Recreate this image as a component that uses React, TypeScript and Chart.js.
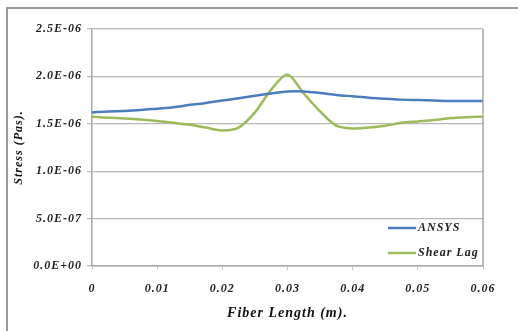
import React, { useEffect, useRef } from "react";
import { Chart, registerables } from "chart.js";

Chart.register(...registerables);

const fiberLength = [0, 0.0025, 0.005, 0.0075, 0.01, 0.0125, 0.015, 0.0175, 0.02, 0.0225, 0.025, 0.0275, 0.03, 0.0325, 0.035, 0.0375, 0.04, 0.0425, 0.045, 0.0475, 0.05, 0.0525, 0.055, 0.0575, 0.06];
const ansys = [1.62e-6, 1.63e-6, 1.635e-6, 1.645e-6, 1.66e-6, 1.675e-6, 1.7e-6, 1.72e-6, 1.745e-6, 1.77e-6, 1.795e-6, 1.82e-6, 1.84e-6, 1.84e-6, 1.825e-6, 1.805e-6, 1.79e-6, 1.775e-6, 1.765e-6, 1.755e-6, 1.75e-6, 1.745e-6, 1.74e-6, 1.74e-6, 1.74e-6];
const shearLag = [1.575e-6, 1.565e-6, 1.555e-6, 1.545e-6, 1.53e-6, 1.51e-6, 1.49e-6, 1.46e-6, 1.43e-6, 1.46e-6, 1.62e-6, 1.86e-6, 2.02e-6, 1.82e-6, 1.63e-6, 1.48e-6, 1.45e-6, 1.46e-6, 1.48e-6, 1.51e-6, 1.525e-6, 1.54e-6, 1.56e-6, 1.57e-6, 1.575e-6];
const yTickValues = [0, 5e-7, 1e-6, 1.5e-6, 2e-6, 2.5e-6];
const yTickLabels = ["0.0E+00", "5.0E-07", "1.0E-06", "1.5E-06", "2.0E-06", "2.5E-06"];
const xTickLabels = ["0", "0.01", "0.02", "0.03", "0.04", "0.05", "0.06"];
const seriesNames = ["ANSYS", "Shear Lag"];
const seriesColors = ["#4a7ebb", "#9bbb59"];

const FONT = "'Liberation Serif', 'Times New Roman', serif";

const spacingPlugin = {
  id: "spacing",
  beforeDraw(chart: any) {
    chart.ctx.letterSpacing = "1px";
  },
};

const framePlugin = {
  id: "frame",
  afterDraw(chart: any) {
    const ctx = chart.ctx;
    const a = chart.chartArea;
    ctx.save();
    ctx.strokeStyle = "#9a9a9a";
    ctx.lineWidth = 2;
    ctx.beginPath();
    ctx.moveTo(7, 340);
    ctx.lineTo(7, 8);
    ctx.lineTo(530, 8);
    ctx.stroke();
    ctx.strokeStyle = "#a6a6a6";
    ctx.lineWidth = 1.5;
    ctx.beginPath();
    ctx.moveTo(a.right, a.top);
    ctx.lineTo(a.right, a.bottom);
    ctx.stroke();
    const ds = chart.data.datasets;
    ctx.letterSpacing = "1px";
    ctx.font = `italic bold 12px ${FONT}`;
    ctx.textBaseline = "middle";
    ctx.textAlign = "left";
    const ys = [a.bottom - 38, a.bottom - 13];
    ds.forEach((d: any, i: number) => {
      ctx.strokeStyle = d.borderColor;
      ctx.lineWidth = 2.5;
      ctx.beginPath();
      ctx.moveTo(388, ys[i]);
      ctx.lineTo(416, ys[i]);
      ctx.stroke();
      ctx.fillStyle = "#222";
      ctx.fillText(d.label, 418, ys[i]);
    });
    ctx.restore();
  },
};

export default function App() {
  const ref = useRef<HTMLCanvasElement>(null);
  useEffect(() => {
    if (!ref.current) return;
    const chart = new Chart(ref.current, {
      type: "line",
      data: {
        labels: fiberLength,
        datasets: [
          {
            label: seriesNames[0],
            data: fiberLength.map((x, i) => ({ x, y: ansys[i] })),
            borderColor: seriesColors[0],
            backgroundColor: seriesColors[0],
            borderWidth: 2.5,
            pointRadius: 0,
            tension: 0.3,
          },
          {
            label: seriesNames[1],
            data: fiberLength.map((x, i) => ({ x, y: shearLag[i] })),
            borderColor: seriesColors[1],
            backgroundColor: seriesColors[1],
            borderWidth: 2.5,
            pointRadius: 0,
            tension: 0.3,
          },
        ],
      },
      options: {
        animation: false,
        responsive: false,
        devicePixelRatio: 1,
        layout: { padding: { left: 12, top: 29, right: 35, bottom: 0 } },
        plugins: { legend: { display: false }, tooltip: { enabled: false } },
        scales: {
          x: {
            type: "linear",
            min: 0,
            max: 0.06,
            afterBuildTicks(axis: any) {
              axis.ticks = xTickLabels.map((t) => ({ value: parseFloat(t) }));
            },
            afterFit(axis: any) {
              axis.height = 65;
            },
            grid: {
              display: true,
              drawOnChartArea: false,
              drawTicks: true,
              tickLength: 4,
              color: "#c8c8c8",
            },
            border: { display: true, color: "#a6a6a6", width: 1.5 },
            ticks: {
              padding: 12,
              color: "#222",
              font: { family: FONT, size: 12, style: "italic", weight: "bold" },
              callback: (v: any) => xTickLabels.find((t) => Math.abs(parseFloat(t) - v) < 1e-9) ?? "",
            },
            title: {
              display: true,
              text: "Fiber Length (m).",
              color: "#111",
              font: { family: FONT, size: 14, style: "italic", weight: "bold" },
              padding: { top: 4, bottom: 9 },
            },
          },
          y: {
            min: 0,
            max: 2.5e-6,
            afterBuildTicks(axis: any) {
              axis.ticks = yTickValues.map((v) => ({ value: v }));
            },
            afterFit(axis: any) {
              axis.width = 80;
            },
            grid: {
              color: "#b8b8b8",
              lineWidth: 1.2,
              tickLength: 5,
            },
            border: { display: true, color: "#a6a6a6", width: 1.5 },
            ticks: {
              padding: 5,
              color: "#222",
              font: { family: FONT, size: 12, style: "italic", weight: "bold" },
              callback: (v: any) => {
                const i = yTickValues.findIndex((t) => Math.abs(t - v) < 1e-12);
                return i >= 0 ? yTickLabels[i] : "";
              },
            },
            title: {
              display: true,
              text: "Stress (Pas).",
              color: "#111",
              font: { family: FONT, size: 12, style: "italic", weight: "bold" },
              padding: { top: 0, bottom: 0 },
            },
          },
        },
      },
      plugins: [spacingPlugin, framePlugin],
    });
    return () => chart.destroy();
  }, []);
  return (
    <div style={{ position: "fixed", left: 0, top: 0, width: 518, height: 331, background: "#fff" }}>
      <canvas ref={ref} width={518} height={331} style={{ width: 518, height: 331 }} />
    </div>
  );
}
